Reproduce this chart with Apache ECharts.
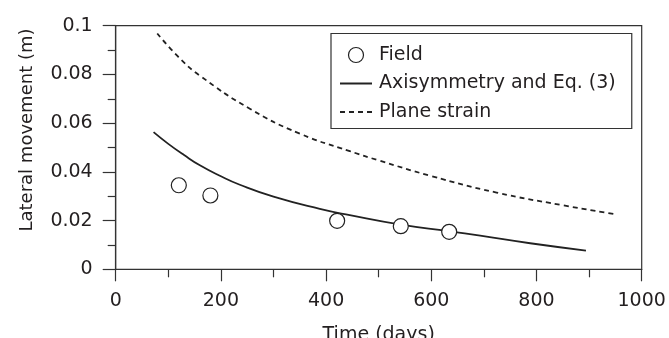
<!DOCTYPE html>
<html>
<head>
<meta charset="utf-8">
<script src="https://cdn.jsdelivr.net/npm/echarts@6/dist/echarts.min.js"></script>
<style>html,body{margin:0;padding:0;background:#fff}#c{width:669px;height:338px}</style>
</head>
<body>
<div id="c"></div>
<script>
var fieldDays = [120, 180, 421, 542, 634];
var fieldMove = [0.0345, 0.0303, 0.0199, 0.0177, 0.0154];

var axiDays = [72, 100, 130, 160, 200, 236, 300, 388, 445, 542, 634, 693, 788, 894];
var axiMove = [0.0563, 0.0515, 0.0469, 0.0427, 0.0382, 0.0347, 0.0298, 0.0248, 0.0222, 0.0183, 0.0156, 0.0138, 0.0107, 0.0077];

var planeDays = [79, 120, 160, 255, 350, 445, 500, 598, 724, 850, 951];
var planeMove = [0.0968, 0.0870, 0.0795, 0.0659, 0.0557, 0.0485, 0.0447, 0.0384, 0.0315, 0.0263, 0.0226];

var xTicks = [0, 200, 400, 600, 800, 1000];
var yTicks = [0, 0.02, 0.04, 0.06, 0.08, 0.1];

var names = ['Field', 'Axisymmetry and Eq. (3)', 'Plane strain'];
var xTitle = 'Time (days)';
var yTitle = 'Lateral movement (m)';

function pairs(xs, ys) { return xs.map(function (x, i) { return [x, ys[i]]; }); }

var FONT = 'DejaVu Sans';
var FS = 19;
var INK = '#231f20';
var SOLID_ICON = 'path://M0,0h32v2h-32z';
var DASH_ICON = 'path://M0,0h5v2h-5zM9,0h5v2h-5zM18,0h5v2h-5zM27,0h5v2h-5z';

var chart = echarts.init(document.getElementById('c'), null, { renderer: 'canvas' });
chart.setOption({
  animation: false,
  backgroundColor: '#fff',
  textStyle: { fontFamily: FONT, color: INK },
  grid: { left: 115.7, right: 27.3, top: 25.7, bottom: 68.7, outerBoundsMode: 'none', containLabel: false,
    show: true, borderColor: '#333', borderWidth: 1.2, backgroundColor: 'transparent' },
  legend: {
    orient: 'vertical',
    left: 331, top: 33.5,
    padding: [12, 16, 7, 9],
    borderColor: '#333', borderWidth: 1.2,
    backgroundColor: '#fff',
    itemWidth: 32, itemHeight: 15, itemGap: 9.5,
    textStyle: { fontFamily: FONT, fontSize: FS, color: INK, padding: [0, 0, 0, 2] },
    data: [
      { name: names[0], icon: 'circle', itemStyle: { color: '#fff', borderColor: '#222', borderWidth: 1.2, opacity: 1 } },
      { name: names[1], icon: SOLID_ICON, itemStyle: { color: '#222', borderWidth: 0 } },
      { name: names[2], icon: DASH_ICON, itemStyle: { color: '#222', borderWidth: 0 } }
    ]
  },
  graphic: [{
    type: 'text', x: 27, y: 130, rotation: Math.PI / 2,
    style: { text: yTitle, font: '18px "' + FONT + '"', fill: INK, align: 'center', verticalAlign: 'middle' }
  }],
  xAxis: {
    type: 'value', min: xTicks[0], max: xTicks[xTicks.length - 1], interval: 200,
    name: xTitle, nameLocation: 'middle', nameGap: 56,
    nameTextStyle: { fontFamily: FONT, fontSize: FS, color: INK },
    axisLine: { lineStyle: { color: '#333', width: 1.2 } },
    axisTick: { inside: false, length: 12, lineStyle: { color: '#333', width: 1.2 } },
    minorTick: { show: true, splitNumber: 2, length: 8, lineStyle: { color: '#333', width: 1.2 } },
    axisLabel: { fontFamily: FONT, fontSize: FS, color: INK, margin: 22,
      formatter: function (v) { return String(v); } },
    splitLine: { show: false }
  },
  yAxis: {
    type: 'value', min: yTicks[0], max: yTicks[yTicks.length - 1], interval: 0.02,
    axisLine: { lineStyle: { color: '#333', width: 1.2 } },
    axisTick: { inside: false, length: 13, lineStyle: { color: '#333', width: 1.2 } },
    minorTick: { show: true, splitNumber: 2, length: 8, lineStyle: { color: '#333', width: 1.2 } },
    axisLabel: { fontFamily: FONT, fontSize: FS, color: INK, margin: 23,
      formatter: function (v) { return String(+v.toFixed(2)); } },
    splitLine: { show: false }
  },
  series: [
    {
      name: names[0], type: 'scatter', symbol: 'circle', symbolSize: 15,
      itemStyle: { color: '#fff', borderColor: '#222', borderWidth: 1.2, opacity: 1 },
      data: pairs(fieldDays, fieldMove), z: 5
    },
    {
      name: names[1], type: 'line', smooth: 0.5, symbol: 'none', showSymbol: false,
      lineStyle: { color: '#222', width: 1.8 }, itemStyle: { color: '#222' },
      data: pairs(axiDays, axiMove)
    },
    {
      name: names[2], type: 'line', smooth: 0.5, symbol: 'none', showSymbol: false,
      lineStyle: { color: '#222', width: 1.8, type: [5, 4] }, itemStyle: { color: '#222' },
      data: pairs(planeDays, planeMove)
    }
  ]
});
</script>
</body>
</html>
